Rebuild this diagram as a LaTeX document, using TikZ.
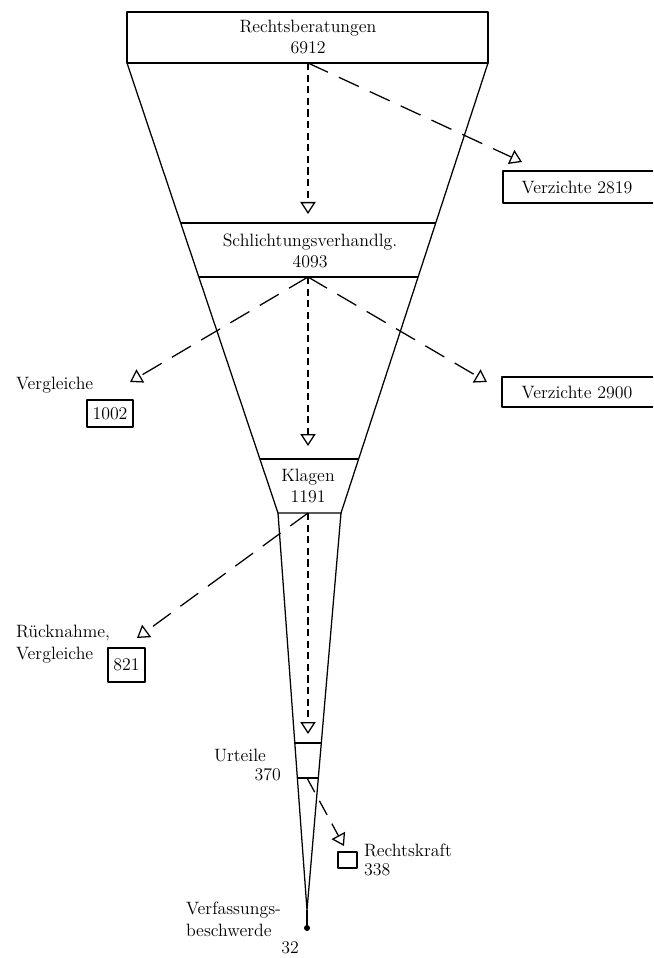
\documentclass[tikz,border=0pt]{standalone}
\usetikzlibrary{arrows.meta}
\begin{document}
\begin{tikzpicture}[x=0.25mm, y=-0.25mm, line width=0.9pt, line join=round,
  font=\fontsize{12.7}{15}\selectfont, inner sep=1pt,
  >={Triangle[open, length=3mm, width=3.8mm, line width=0.9pt, fill=white]},
  kurz/.style={->, dash pattern=on 1.8mm off 1.1mm},
  lang/.style={->, dash pattern=on 5.5mm off 3mm},
  zahl/.style={draw, inner sep=0pt}]
\useasboundingbox (0,0) rectangle (653,958);
% Trichter: linke und rechte Kante
\coordinate (lo) at (127,63);
\coordinate (ro) at (488,63);
\coordinate (lu) at (278,513);
\coordinate (ru) at (341,513);
\coordinate (spitze) at (307,910);
% Kopfkasten
\draw (lo) rectangle (488,12);
\node (rb) at (308,37) [align=center] {Rechtsberatungen\\6912};
% grosser Trichter
\draw (lo) -- (lu) -- (ru) -- (ro);
% Baender
\draw (180.7,223) -- (435.7,223);
\draw (198.8,277) -- (418.1,277);
\node (sv) at (310,251) [align=center] {Schlichtungsverhandlg.\\4093};
\draw (259.9,459) -- (358.6,459);
\node (kl) at (308,486) [align=center] {Klagen\\1191};
% kleiner Trichter
\draw (lu) -- (spitze) -- (ru);
\draw (294.7,743) -- (321.4,743);
\draw (297.3,778) -- (318.4,778);
\draw[line width=1.8pt] (spitze) -- (307,928);
\fill (307,928) circle (3);
% Ausgangspunkte der Pfeile
\coordinate (rbFuss) at (308,63);
\coordinate (svFuss) at (308,277);
\coordinate (klFuss) at (308,513);
\coordinate (urFuss) at (307,778);
% Pfeilspitzen
\coordinate (svSpitze) at (308,214);
\coordinate (klSpitze) at (308,446);
\coordinate (urSpitze) at (308,734);
\coordinate (vz1Spitze) at (522,162);
\coordinate (vz2Spitze) at (487,382);
\coordinate (vg1Spitze) at (130,382);
\coordinate (vg2Spitze) at (137,638);
\coordinate (rkSpitze) at (344,846);
% Kaesten rechts (zum Rand offen)
\draw (653,171) -- (503,171) -- (503,203) -- (653,203);
\node (vz1) at (577,187) {Verzichte 2819};
\draw (653,377) -- (502,377) -- (502,407) -- (653,407);
\node (vz2) at (577,392) {Verzichte 2900};
% links
\node (vg1) at (14,385) [anchor=west] {Vergleiche};
\node (vg1z) at (110,413.5) [zahl, minimum width=11.5mm, minimum height=6.75mm] {1002};
\node (rn) at (14,633) [anchor=west] {R\"ucknahme,};
\node (vg2) at (14,655) [anchor=west] {Vergleiche};
\node (vg2z) at (126.5,665) [zahl, minimum width=9.25mm, minimum height=8.5mm] {821};
% unten
\node (ur) at (268,755) [anchor=east] {Urteile};
\node (urz) at (283,775) [anchor=east] {370};
\draw (338,852) rectangle (357,868);
\node (rk) at (362,850) [anchor=west] {Rechtskraft};
\node (rkz) at (362,870) [anchor=west] {338};
\node (vb) at (184,910) [anchor=west] {Verfassungs-};
\node (vbb) at (184,930) [anchor=west] {beschwerde};
\node (vbz) at (290,948) {32};
% Pfeile
\draw[kurz] (rbFuss) -- (svSpitze);
\draw[lang] (rbFuss) -- (vz1Spitze);
\draw[kurz] (svFuss) -- (klSpitze);
\draw[lang] (svFuss) -- (vg1Spitze);
\draw[lang] (svFuss) -- (vz2Spitze);
\draw[kurz] (klFuss) -- (urSpitze);
\draw[lang] (klFuss) -- (vg2Spitze);
\draw[->, dash pattern=on 4mm off 2.5mm] (urFuss) -- (rkSpitze);
\end{tikzpicture}
\end{document}
